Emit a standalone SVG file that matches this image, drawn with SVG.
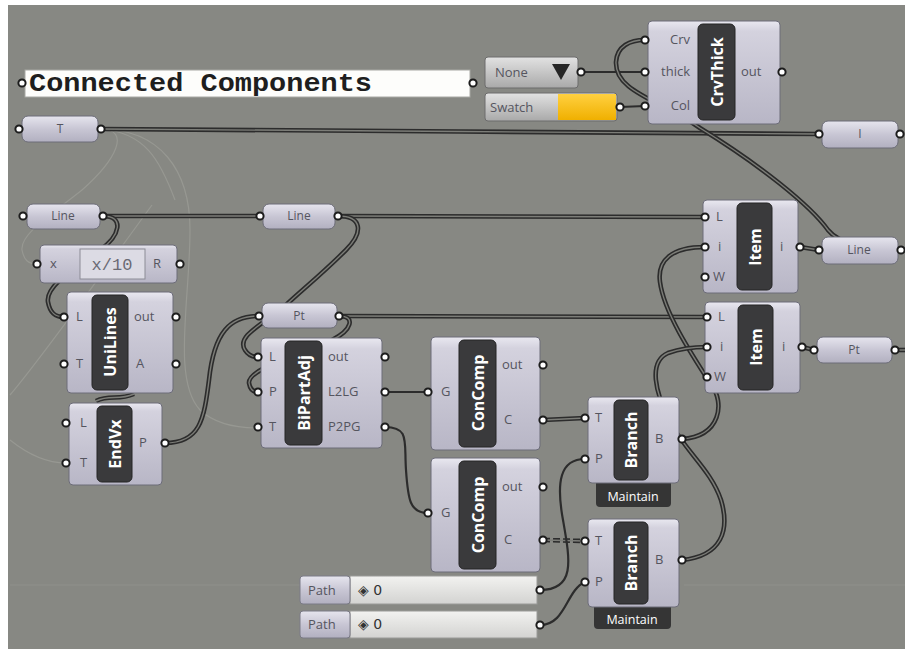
<svg xmlns="http://www.w3.org/2000/svg" xmlns:xlink="http://www.w3.org/1999/xlink" width="905" height="649" viewBox="0 0 905 649">
<defs>
<linearGradient id="gComp" x1="0" y1="0" x2="0" y2="1">
<stop offset="0" stop-color="#e9e8f0"/><stop offset="0.1" stop-color="#d4d2de"/><stop offset="1" stop-color="#b8b6c6"/>
</linearGradient>
<linearGradient id="gParam" x1="0" y1="0" x2="0" y2="1">
<stop offset="0" stop-color="#e6e5ee"/><stop offset="0.5" stop-color="#c8c6d4"/><stop offset="1" stop-color="#b2b0c0"/>
</linearGradient>
<linearGradient id="gGray" x1="0" y1="0" x2="0" y2="1">
<stop offset="0" stop-color="#e2e2e2"/><stop offset="1" stop-color="#a9a9a9"/>
</linearGradient>
<linearGradient id="gVal" x1="0" y1="0" x2="0" y2="1">
<stop offset="0" stop-color="#f2f2f0"/><stop offset="1" stop-color="#d3d3d1"/>
</linearGradient>
<linearGradient id="gYel" x1="0" y1="0" x2="0" y2="1">
<stop offset="0" stop-color="#ffd040"/><stop offset="1" stop-color="#f0b000"/>
</linearGradient>
<path id="wT" d="M100 129 C400 129 520 134 819 134"/>
<path id="wCrv" d="M900 250 C870 250 840 245 828 230 C810 205 760 165 700 128 C660 100 615 92 616 62 C617 46 630 40 645 40"/>
<path id="wLL" d="M103 216 L260 216"/>
<path id="wLI" d="M338 216 L705 217"/>
<path id="wLU" d="M103 216 C125 216 120 236 100 250 C80 265 45 285 48 302 C50 313 55 317 64 317"/>
<path id="wLB" d="M338 216 C362 216 364 232 346 250 C322 274 302 290 286 305 C262 325 236 336 245 350 C248 355 252 357 258 357"/>
<path id="wEP" d="M165 443 C200 443 204 420 209 380 C214 332 230 316 259 316"/>
<path id="wPI" d="M339 316 L707 317"/>
<path id="wPB" d="M339 316 C356 316 352 330 332 340 C302 355 248 368 249 383 C250 389 253 392 258 392"/>
<path id="wCB1" d="M543 420 L585 418"/>
<path id="wCB2" d="M543 540 L585 541"/>
<path id="wB1" d="M682 439 C722 436 724 402 712 386 C690 352 664 312 660 282 C657 260 672 247 705 247"/>
<path id="wB2" d="M682 560 C722 556 730 530 721 500 C711 470 686 452 670 422 C655 392 648 362 668 353 C682 348 694 347 707 347"/>
<path id="wIL" d="M800 247 L819 250"/>
<path id="wIP" d="M802 347 L814 350"/>
<path id="wPo" d="M895 350 L905 350"/>
<path id="wUE" d="M96 401 C110 394 118 401 134 394"/>
</defs>
<style>
.bg{fill:#878883}
.comp{fill:url(#gComp);stroke:#6c6c78;stroke-width:1}
.param{fill:url(#gParam);stroke:#6c6c78;stroke-width:1}
.bar{fill:#3a3a3c;stroke:#242424;stroke-width:1}
.bt{fill:#ffffff;font-family:"Open Sans","DejaVu Sans",sans-serif;font-weight:bold;font-size:16px;text-anchor:middle;dominant-baseline:central}
.lb{fill:#55555f;font-family:"Open Sans","DejaVu Sans",sans-serif;font-size:13px}
.pl{fill:#55555f;font-family:"Open Sans","DejaVu Sans",sans-serif;font-size:12px;text-anchor:middle}
.grip{fill:#ffffff;stroke:#1c1c1c;stroke-width:2}
.wo{fill:none;stroke:#2c2c2c;stroke-width:4.6}
.wi{fill:none;stroke:#7c7d78;stroke-width:1.4}
.w1{fill:none;stroke:#2c2c2c;stroke-width:2.2}
.fa{fill:none;stroke:#979892;stroke-width:1.2}
.mt{fill:#ffffff;font-family:"Open Sans","DejaVu Sans",sans-serif;font-size:12.5px;text-anchor:middle}
</style>
<rect x="0" y="0" width="905" height="649" fill="#ffffff"/>
<rect class="bg" x="8" y="5" width="897" height="644"/>

<g id="connectors">
<path class="fa" d="M100 129 C160 129 190 170 190 230 C190 300 172 380 200 410 C215 424 235 428 258 428"/>
<path class="fa" d="M100 129 C132 129 116 160 82 190 C52 214 20 234 22 250 C24 260 28 264 37 264"/>
<path class="fa" d="M100 129 C145 132 160 160 175 200"/>
<path class="fa" d="M10 395 C40 360 90 290 152 205"/>
<path class="fa" d="M10 440 C30 456 48 463 66 463"/>
<path class="fa" d="M10 585 L300 585" stroke-opacity="0.6"/>
<path class="fa" d="M684 585 L905 585" stroke-opacity="0.6"/>
<use href="#wT" class="wo"/><use href="#wT" class="wi"/>
<path class="w1" d="M581 72 L645 72"/>
<path class="w1" d="M620 107 L645 106"/>
<use href="#wCrv" class="wo"/><use href="#wCrv" class="wi"/>
<use href="#wLL" class="wo"/><use href="#wLL" class="wi"/>
<use href="#wLI" class="wo"/><use href="#wLI" class="wi"/>
<use href="#wLU" class="wo"/><use href="#wLU" class="wi"/>
<use href="#wLB" class="wo"/><use href="#wLB" class="wi"/>
<use href="#wEP" class="wo"/><use href="#wEP" class="wi"/>
<use href="#wPI" class="wo"/><use href="#wPI" class="wi"/>
<use href="#wPB" class="wo"/><use href="#wPB" class="wi"/>
<use href="#wUE" class="wo"/><use href="#wUE" class="wi"/>
<path class="w1" d="M385 392 L428 392"/>
<path class="w1" d="M385 427 C410 427 404 442 406 470 C408 500 410 513 428 513"/>
<use href="#wCB1" class="wo"/><use href="#wCB1" class="wi"/>
<use href="#wCB2" class="wo" stroke-dasharray="7 3"/><use href="#wCB2" class="wi"/>
<path class="w1" d="M540 590 C576 590 570 560 563 520 C556 482 560 459 585 459"/>
<path class="w1" d="M540 625 C566 625 566 590 585 582"/>
<use href="#wB1" class="wo"/><use href="#wB1" class="wi"/>
<use href="#wB2" class="wo"/><use href="#wB2" class="wi"/>
<use href="#wIL" class="wo"/><use href="#wIL" class="wi"/>
<use href="#wIP" class="wo"/><use href="#wIP" class="wi"/>
<use href="#wPo" class="wo"/><use href="#wPo" class="wi"/>
</g>

<g id="panel">
<rect x="25" y="70" width="445" height="27" fill="#fdfdfb" stroke="#a8a8a4" stroke-width="1"/>
<text x="29" y="91" font-family="'Liberation Mono','DejaVu Sans Mono',monospace" font-weight="bold" font-size="26" textLength="343" lengthAdjust="spacingAndGlyphs" fill="#1e1e1e">Connected Components</text>
<circle class="grip" cx="22" cy="83" r="3.6"/><circle class="grip" cx="473" cy="83" r="3.6"/>
</g>

<g id="none">
<rect x="485" y="57" width="93" height="31" rx="3" fill="url(#gGray)" stroke="#6c6c6c"/>
<text x="495" y="77" class="lb" font-size="14">None</text>
<polygon points="552,64 570,64 561,80" fill="#262626"/>
<circle class="grip" cx="581" cy="72" r="3.6"/>
</g>

<g id="swatch">
<rect x="485" y="93" width="132" height="28" rx="3" fill="url(#gGray)" stroke="#6c6c6c"/>
<rect x="558" y="94" width="58" height="26" fill="url(#gYel)"/>
<text x="490" y="112" class="lb" font-size="14">Swatch</text>
<circle class="grip" cx="620" cy="107" r="3.6"/>
</g>

<g id="crvthick">
<rect class="comp" x="648" y="21" width="132" height="103" rx="4"/>
<rect class="bar" x="698" y="24" width="37" height="96" rx="5"/>
<text class="bt" transform="translate(716.5,72) rotate(-90)" font-size="17">CrvThick</text>
<text class="lb" x="690" y="44" text-anchor="end">Crv</text>
<text class="lb" x="690" y="76" text-anchor="end">thick</text>
<text class="lb" x="690" y="110" text-anchor="end">Col</text>
<text class="lb" x="741" y="76">out</text>
<circle class="grip" cx="645" cy="40" r="3.6"/><circle class="grip" cx="645" cy="72" r="3.6"/><circle class="grip" cx="645" cy="106" r="3.6"/>
<circle class="grip" cx="782" cy="72" r="3.6"/>
</g>

<g id="paramT">
<rect class="param" x="22" y="116" width="76" height="26" rx="6"/>
<text class="pl" x="60" y="133">T</text>
<circle class="grip" cx="19" cy="129" r="3.6"/><circle class="grip" cx="101" cy="129" r="3.6"/>
</g>

<g id="paramI">
<rect class="param" x="822" y="121" width="76" height="27" rx="6"/>
<text class="pl" x="860" y="138">I</text>
<circle class="grip" cx="819" cy="134" r="3.6"/><circle class="grip" cx="900" cy="134" r="3.6"/>
</g>

<g id="lineL">
<rect class="param" x="27" y="204" width="73" height="25" rx="6"/>
<text class="pl" x="63" y="220">Line</text>
<circle class="grip" cx="23" cy="216" r="3.6"/><circle class="grip" cx="103" cy="216" r="3.6"/>
</g>

<g id="lineM">
<rect class="param" x="263" y="204" width="72" height="25" rx="6"/>
<text class="pl" x="299" y="220">Line</text>
<circle class="grip" cx="260" cy="216" r="3.6"/><circle class="grip" cx="338" cy="216" r="3.6"/>
</g>

<g id="expr">
<rect class="comp" x="40" y="245" width="137" height="38" rx="4"/>
<rect x="80" y="249" width="65" height="30" fill="#dcdbe4" stroke="#8c8c96"/>
<text x="112" y="270" font-family="'Liberation Mono','DejaVu Sans Mono',monospace" font-size="17" fill="#6a6a74" text-anchor="middle">x/10</text>
<text class="lb" x="50" y="268" font-size="10">x</text>
<text class="lb" x="153" y="268" font-size="11">R</text>
<circle class="grip" cx="37" cy="264" r="3.6"/><circle class="grip" cx="180" cy="264" r="3.6"/>
</g>

<g id="unilines">
<rect class="comp" x="67" y="292" width="106" height="101" rx="4"/>
<rect class="bar" x="92" y="295" width="36" height="95" rx="5"/>
<text class="bt" transform="translate(110,342) rotate(-90)" font-size="17">UniLines</text>
<text class="lb" x="76" y="321">L</text>
<text class="lb" x="76" y="368">T</text>
<text class="lb" x="134" y="321">out</text>
<text class="lb" x="136" y="368">A</text>
<circle class="grip" cx="64" cy="317" r="3.6"/><circle class="grip" cx="64" cy="364" r="3.6"/>
<circle class="grip" cx="176" cy="317" r="3.6"/><circle class="grip" cx="176" cy="364" r="3.6"/>
</g>

<g id="endvx">
<rect class="comp" x="69" y="403" width="93" height="82" rx="4"/>
<rect class="bar" x="97" y="406" width="35" height="76" rx="5"/>
<text class="bt" transform="translate(114.5,444) rotate(-90)">EndVx</text>
<text class="lb" x="80" y="427">L</text>
<text class="lb" x="80" y="467">T</text>
<text class="lb" x="139" y="447">P</text>
<circle class="grip" cx="66" cy="423" r="3.6"/><circle class="grip" cx="66" cy="463" r="3.6"/>
<circle class="grip" cx="165" cy="443" r="3.6"/>
</g>

<g id="ptM">
<rect class="param" x="262" y="303" width="75" height="25" rx="6"/>
<text class="pl" x="299" y="320">Pt</text>
<circle class="grip" cx="259" cy="316" r="3.6"/><circle class="grip" cx="339" cy="316" r="3.6"/>
</g>

<g id="bipartadj">
<rect class="comp" x="261" y="338" width="121" height="110" rx="4"/>
<rect class="bar" x="285" y="341" width="37" height="104" rx="5"/>
<text class="bt" transform="translate(303.5,393) rotate(-90)">BiPartAdj</text>
<text class="lb" x="269" y="361">L</text>
<text class="lb" x="269" y="396">P</text>
<text class="lb" x="269" y="431">T</text>
<text class="lb" x="328" y="361">out</text>
<text class="lb" x="328" y="396">L2LG</text>
<text class="lb" x="328" y="431">P2PG</text>
<circle class="grip" cx="258" cy="357" r="3.6"/><circle class="grip" cx="258" cy="392" r="3.6"/><circle class="grip" cx="258" cy="427" r="3.6"/>
<circle class="grip" cx="385" cy="357" r="3.6"/><circle class="grip" cx="385" cy="392" r="3.6"/><circle class="grip" cx="385" cy="427" r="3.6"/>
</g>

<g id="concomp1">
<rect class="comp" x="431" y="337" width="109" height="113" rx="4"/>
<rect class="bar" x="459" y="340" width="37" height="107" rx="5"/>
<text class="bt" transform="translate(477.5,393) rotate(-90)" font-size="17">ConComp</text>
<text class="lb" x="441" y="396">G</text>
<text class="lb" x="502" y="369">out</text>
<text class="lb" x="504" y="424">C</text>
<circle class="grip" cx="428" cy="392" r="3.6"/>
<circle class="grip" cx="543" cy="365" r="3.6"/><circle class="grip" cx="543" cy="420" r="3.6"/>
</g>

<g id="concomp2">
<rect class="comp" x="431" y="458" width="109" height="114" rx="4"/>
<rect class="bar" x="459" y="461" width="37" height="108" rx="5"/>
<text class="bt" transform="translate(477.5,515) rotate(-90)" font-size="17">ConComp</text>
<text class="lb" x="441" y="517">G</text>
<text class="lb" x="502" y="491">out</text>
<text class="lb" x="504" y="544">C</text>
<circle class="grip" cx="428" cy="513" r="3.6"/>
<circle class="grip" cx="543" cy="487" r="3.6"/><circle class="grip" cx="543" cy="540" r="3.6"/>
</g>

<g id="branch1">
<rect x="596" y="480" width="75" height="27" rx="4" fill="#353535"/>
<text class="mt" x="633" y="501">Maintain</text>
<rect class="comp" x="588" y="397" width="91" height="86" rx="4"/>
<rect class="bar" x="614" y="400" width="34" height="80" rx="5"/>
<text class="bt" transform="translate(631,440) rotate(-90)">Branch</text>
<text class="lb" x="595" y="422">T</text>
<text class="lb" x="595" y="463">P</text>
<text class="lb" x="655" y="443">B</text>
<circle class="grip" cx="585" cy="418" r="3.6"/><circle class="grip" cx="585" cy="459" r="3.6"/>
<circle class="grip" cx="682" cy="439" r="3.6"/>
</g>

<g id="branch2">
<rect x="594" y="603" width="77" height="26" rx="4" fill="#353535"/>
<text class="mt" x="632" y="624">Maintain</text>
<rect class="comp" x="588" y="519" width="91" height="88" rx="4"/>
<rect class="bar" x="614" y="522" width="34" height="82" rx="5"/>
<text class="bt" transform="translate(631,563) rotate(-90)">Branch</text>
<text class="lb" x="595" y="545">T</text>
<text class="lb" x="595" y="586">P</text>
<text class="lb" x="655" y="564">B</text>
<circle class="grip" cx="585" cy="541" r="3.6"/><circle class="grip" cx="585" cy="582" r="3.6"/>
<circle class="grip" cx="682" cy="560" r="3.6"/>
</g>

<g id="item1">
<rect class="comp" x="703" y="200" width="95" height="93" rx="4"/>
<rect class="bar" x="737" y="203" width="35" height="87" rx="5"/>
<text class="bt" transform="translate(754.5,247) rotate(-90)">Item</text>
<text class="lb" x="716" y="221">L</text>
<text class="lb" x="718" y="251">i</text>
<text class="lb" x="713" y="281">W</text>
<text class="lb" x="780" y="251">i</text>
<circle class="grip" cx="705" cy="217" r="3.6"/><circle class="grip" cx="705" cy="247" r="3.6"/><circle class="grip" cx="705" cy="277" r="3.6"/>
<circle class="grip" cx="800" cy="247" r="3.6"/>
</g>

<g id="item2">
<rect class="comp" x="705" y="302" width="95" height="91" rx="4"/>
<rect class="bar" x="738" y="305" width="35" height="85" rx="5"/>
<text class="bt" transform="translate(755.5,347) rotate(-90)">Item</text>
<text class="lb" x="718" y="321">L</text>
<text class="lb" x="720" y="351">i</text>
<text class="lb" x="714" y="381">W</text>
<text class="lb" x="782" y="351">i</text>
<circle class="grip" cx="707" cy="317" r="3.6"/><circle class="grip" cx="707" cy="347" r="3.6"/><circle class="grip" cx="707" cy="377" r="3.6"/>
<circle class="grip" cx="802" cy="347" r="3.6"/>
</g>

<g id="lineR">
<rect class="param" x="822" y="237" width="76" height="27" rx="6"/>
<text class="pl" x="859" y="254">Line</text>
<circle class="grip" cx="819" cy="250" r="3.6"/><circle class="grip" cx="901" cy="250" r="3.6"/>
</g>

<g id="ptR">
<rect class="param" x="817" y="337" width="75" height="26" rx="6"/>
<text class="pl" x="854" y="354">Pt</text>
<circle class="grip" cx="814" cy="350" r="3.6"/><circle class="grip" cx="895" cy="350" r="3.6"/>
</g>

<g id="path1">
<rect x="350" y="576" width="187" height="28" fill="url(#gVal)" stroke="#9a9a98"/>
<rect x="300" y="576" width="50" height="28" rx="3" fill="url(#gParam)" stroke="#7a7a86"/>
<text class="lb" x="308" y="595">Path</text>
<text x="358" y="595" font-family="'DejaVu Sans',sans-serif" font-size="14" fill="#333">◈ 0</text>
<circle class="grip" cx="540" cy="590" r="3.6"/>
</g>

<g id="path2">
<rect x="350" y="611" width="187" height="27" fill="url(#gVal)" stroke="#9a9a98"/>
<rect x="300" y="611" width="50" height="27" rx="3" fill="url(#gParam)" stroke="#7a7a86"/>
<text class="lb" x="308" y="629">Path</text>
<text x="358" y="629" font-family="'DejaVu Sans',sans-serif" font-size="14" fill="#333">◈ 0</text>
<circle class="grip" cx="540" cy="625" r="3.6"/>
</g>
</svg>
